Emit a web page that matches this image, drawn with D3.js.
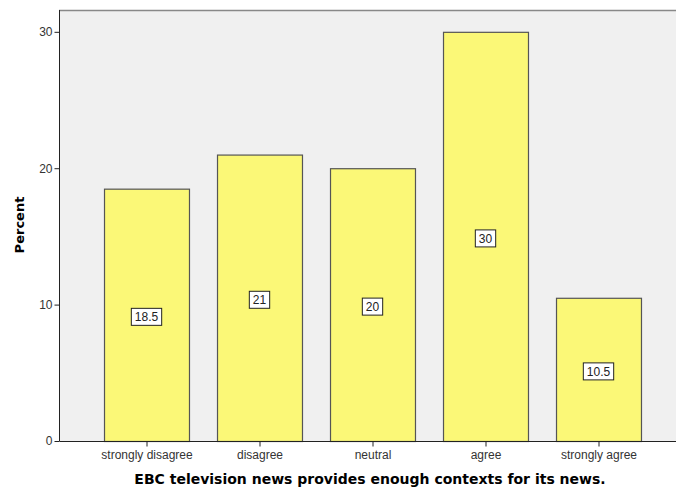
<!DOCTYPE html>
<html><head><meta charset="utf-8">
<script src="https://cdn.jsdelivr.net/npm/d3@7"></script>
<style>body{margin:0;background:#fff}svg{display:block}</style>
</head><body>
<svg id="c" width="676" height="489"></svg>
<script>
const categories = ["strongly disagree","disagree","neutral","agree","strongly agree"];
const percents = [18.5, 21, 20, 30, 10.5];
const yTicks = [0, 10, 20, 30];
const xTitle = "EBC television news provides enough contexts for its news.";
const yTitle = "Percent";

(function(){
const svg = d3.select("#c");
const pL = 59, pR = 676, pT = 10, pB = 441;
const y = d3.scaleLinear().domain([0, 31.6]).range([pB, pT]);
const x = d3.scaleBand().domain(categories).range([90, 655]).paddingInner(0.248).paddingOuter(0.124);

svg.append("rect").attr("x", pL).attr("y", pT).attr("width", pR - pL).attr("height", pB - pT).attr("fill", "#f0f0f0");
svg.append("line").attr("x1", pL).attr("x2", pR).attr("y1", pT + 0.5).attr("y2", pT + 0.5).attr("stroke", "#888").attr("stroke-width", 1.5);

svg.selectAll("rect.bar").data(percents).join("rect").attr("class","bar")
  .attr("x", (d,i) => x(categories[i]) + 0.5)
  .attr("width", x.bandwidth())
  .attr("y", d => y(d) + 0.5)
  .attr("height", d => y(0) - y(d))
  .attr("fill", "#fbf877").attr("stroke", "#555").attr("stroke-width", 1.2);

const lab = svg.selectAll("g.lab").data(percents).join("g").attr("class","lab")
  .attr("transform", (d,i) => `translate(${x(categories[i]) + x.bandwidth()/2},${y(d/2) + 2})`);
lab.each(function(d){
  const g = d3.select(this);
  const t = g.append("text").text(d).attr("text-anchor","middle").attr("dy","0.36em")
    .attr("font-family","Liberation Sans, Arial, sans-serif").attr("font-size", 12).attr("fill","#222");
  const w = t.node().getComputedTextLength();
  g.insert("rect","text").attr("x", -w/2 - 3.5).attr("y", -8.5).attr("width", w + 7).attr("height", 17)
    .attr("fill","#fff").attr("stroke","#222").attr("stroke-width",1);
});

const yAxis = d3.axisLeft(y).tickValues(yTicks).tickSize(5).tickPadding(2);
const ga = svg.append("g").attr("transform", `translate(${pL + 0.5},0)`).call(yAxis);
ga.select(".domain").attr("d", `M0,${pT}V${pB}`).attr("stroke","#222");
ga.selectAll(".tick line").attr("stroke","#222");
ga.selectAll("text").attr("font-family","Liberation Sans, Arial, sans-serif").attr("font-size", 12).attr("fill","#333");

const xAxis = d3.axisBottom(x).tickSize(5).tickPadding(4);
const gx = svg.append("g").attr("transform", `translate(0.5,${pB + 0.5})`).call(xAxis);
gx.select(".domain").attr("d", `M${pL},0H${pR}`).attr("stroke","#222");
gx.selectAll(".tick line").attr("stroke","#222");
gx.selectAll("text").attr("font-family","Liberation Sans, Arial, sans-serif").attr("font-size", 12).attr("fill","#333");

svg.append("text").text(xTitle).attr("x", 370).attr("y", 484).attr("text-anchor","middle")
  .attr("font-family","DejaVu Sans, Verdana, sans-serif").attr("font-weight","bold").attr("font-size", 14).attr("fill","#000");
svg.append("text").text(yTitle).attr("transform","translate(24,225) rotate(-90)").attr("text-anchor","middle")
  .attr("font-family","DejaVu Sans, Verdana, sans-serif").attr("font-weight","bold").attr("font-size", 13).attr("fill","#000");
})();
</script>
</body></html>
